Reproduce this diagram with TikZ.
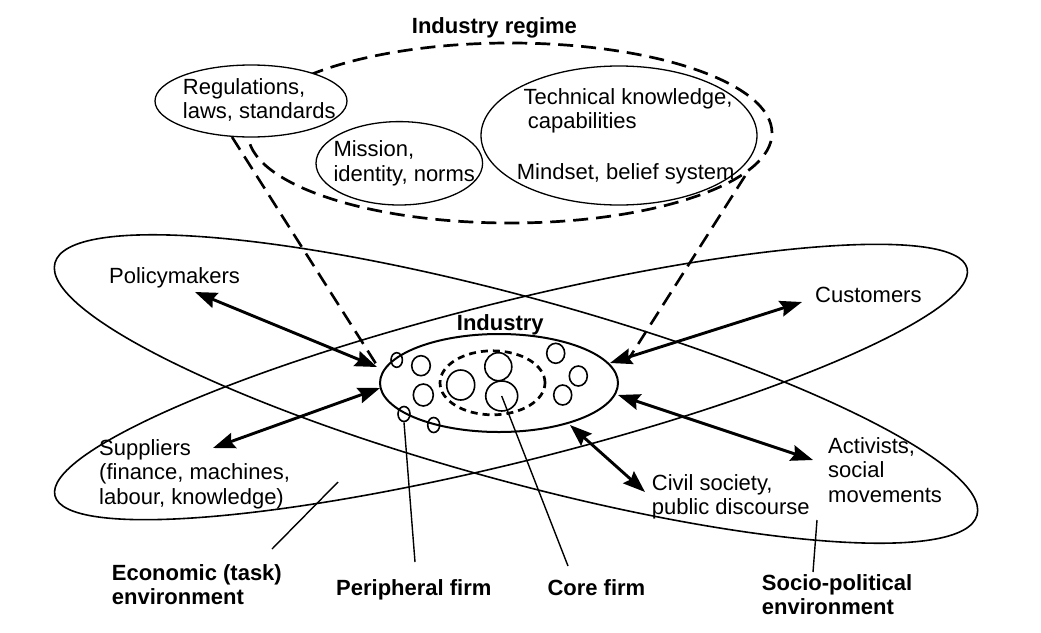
\documentclass[tikz,border=0pt]{standalone}
\usepackage{fontspec}
\setmainfont{Liberation Sans}
\usetikzlibrary{arrows.meta,shapes.geometric}
\newcommand\mlines[1]{\begin{tabular}[t]{@{}l@{}}#1\end{tabular}}
\begin{document}
\begin{tikzpicture}[x=1pt,y=-1pt,
  lbl/.style={anchor=base west, inner sep=0pt, font=\fontsize{22}{24.5}\selectfont},
  blbl/.style={anchor=base west, inner sep=0pt, font=\fontsize{22}{24}\selectfont\bfseries},
  env/.style={draw, ellipse, line width=1.6pt, inner sep=0pt},
  topell/.style={draw, ellipse, line width=1.3pt, inner sep=0pt},
  firm/.style={draw, ellipse, line width=1.6pt, inner sep=0pt},
  regime/.style={draw, ellipse, line width=2.7pt, inner sep=0pt, dash pattern=on 15pt off 8pt},
  coredash/.style={draw, ellipse, line width=2.7pt, inner sep=0pt, dash pattern=on 7pt off 5pt},
  biarrow/.style={line width=2.9pt, {Stealth[length=22pt,width=16pt,inset=3pt]}-{Stealth[length=22pt,width=16pt,inset=3pt]}},
  link/.style={line width=2.6pt, dash pattern=on 15pt off 8pt},
  pointer/.style={line width=1.4pt}
]
\fill[white] (0,0) rectangle (1041,632);
\useasboundingbox (0,0) rectangle (1041,632);

% environments
\node[env, minimum width=956, minimum height=184, rotate=-15.3] (socio) at (516,389) {};
\node[env, minimum width=940, minimum height=160, rotate=14] (econ) at (511,382) {};

% industry
\node[draw, ellipse, line width=2pt, inner sep=0pt, minimum width=238, minimum height=98] (ind) at (499,383) {};
\node[blbl] (indlbl) at (456.7,330.7) {Industry};

\node[coredash, minimum width=105, minimum height=64] (core) at (492.5,382.8) {};
\node[firm, minimum width=11.4, minimum height=14.6] (pA) at (396.7,360) {};
\node[firm, minimum width=18.6, minimum height=20] (c1) at (421,365.7) {};
\node[firm, minimum width=20, minimum height=22] (c2) at (423.3,395) {};
\node[firm, minimum width=28, minimum height=30] (k1) at (460.7,385) {};
\node[firm, minimum width=27, minimum height=28] (k2) at (498.3,366.7) {};
\node[firm, minimum width=32, minimum height=30] (k3) at (501.7,396) {};
\node[firm, minimum width=18, minimum height=20] (c3) at (555.7,353.3) {};
\node[firm, minimum width=18, minimum height=20] (c4) at (578.3,376) {};
\node[firm, minimum width=18, minimum height=20] (c5) at (562.7,395) {};
\node[firm, minimum width=12, minimum height=15] (pB) at (404,414) {};
\node[firm, minimum width=12, minimum height=15] (pC) at (433.7,425) {};

% actors
\node[lbl] (pol) at (109,283.5) {Policymakers};
\node[lbl] (cus) at (815,302.5) {Customers};
\node[lbl] (sup) at (99,455) {\mlines{Suppliers\\(finance, machines,\\labour, knowledge)}};
\node[lbl] (civ) at (651.7,490) {\mlines{Civil society,\\public discourse}};
\node[lbl] (act) at (828,453.3) {\mlines{Activists,\\social\\movements}};

% arrows
\coordinate (polT) at (195,292);  \coordinate (polI) at (377,367);
\coordinate (supT) at (213,448);  \coordinate (supI) at (380,388);
\coordinate (cusT) at (802,302);  \coordinate (cusI) at (610,363);
\coordinate (actT) at (813,460);  \coordinate (actI) at (618,395);
\coordinate (civT) at (645,492);  \coordinate (civI) at (570,425);
\draw[biarrow] (polT) -- (polI);
\draw[biarrow] (supT) -- (supI);
\draw[biarrow] (cusT) -- (cusI);
\draw[biarrow] (actT) -- (actI);
\draw[biarrow] (civT) -- (civI);

% regime
\node[topell, minimum width=276, minimum height=139] (tech) at (619,135.5) {};
\node[topell, minimum width=166.6, minimum height=83.4] (mis) at (399.3,163.3) {};
\node[regime, minimum width=524, minimum height=180] (reg) at (510,133) {};
\node[topell, fill=white, minimum width=192, minimum height=72] (rul) at (251,101) {};
\node[blbl] (reglbl) at (411.7,33.3) {Industry regime};
\node[lbl] (rultxt) at (182.7,94.3) {\mlines{Regulations,\\laws, standards}};
\node[lbl] (mistxt) at (333.3,156.7) {\mlines{Mission,\\identity, norms}};
\node[lbl] (techtxt) at (523.3,104.3) {Technical knowledge,};
\node[lbl] (captxt) at (527.7,128.3) {capabilities};
\node[lbl] (mindtxt) at (516.7,179) {Mindset, belief system};

% dashed links
\coordinate (lkA) at (232,137); \coordinate (lkB) at (378,367);
\coordinate (lkC) at (745,176); \coordinate (lkD) at (628,360);
\draw[link] (lkA) -- (lkB);
\draw[link] (lkC) -- (lkD);

% bottom labels
\node[blbl] (ecolbl) at (111.7,580) {\mlines{Economic (task)\\environment}};
\node[blbl] (perlbl) at (336,595) {Peripheral firm};
\node[blbl] (corelbl) at (547.3,595) {Core firm};
\node[blbl] (soclbl) at (761.7,590) {\mlines{Socio-political\\environment}};

\coordinate (ecoP) at (338,482); \coordinate (ecoE) at (272,549);
\coordinate (perE) at (415,562);
\coordinate (coreE) at (568,566);
\coordinate (socP) at (817,520); \coordinate (socE) at (813,572);
\draw[pointer] (ecoP) -- (ecoE);
\draw[pointer] (pB.south) -- (perE);
\draw[pointer] (k3.center) -- (coreE);
\draw[pointer] (socP) -- (socE);
\end{tikzpicture}
\end{document}
